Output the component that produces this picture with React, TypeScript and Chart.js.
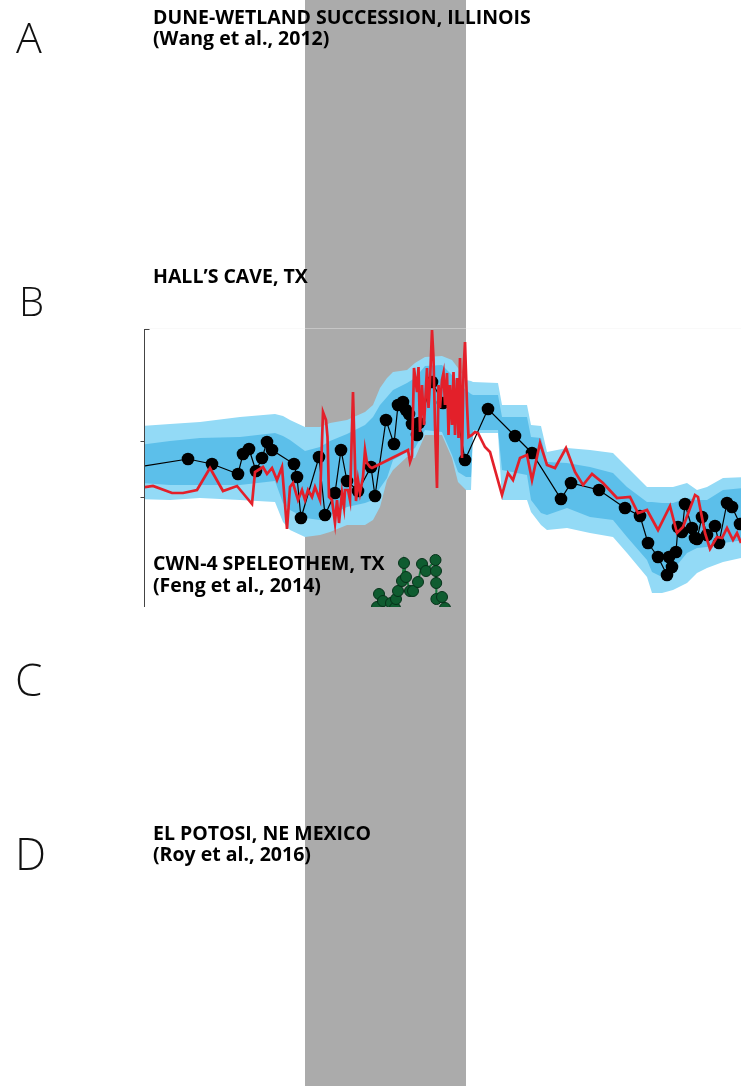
import React, { useEffect, useRef } from "react";
import { Chart, registerables } from "chart.js";

Chart.register(...registerables);

// ---------- data (x: age in cal ka BP, axis reversed; y: proxy value) ----------
const X_MIN = 9.04;
const X_MAX = 15.0;
const Y_MIN = 0;
const Y_MAX = 27.8;
const YD_START = 13.4;
const YD_END = 11.79;
const yTickVals = [16.6, 11.0];

// B: black dotted series
const blackAge = [15.25, 14.57, 14.33, 14.07, 14.02, 13.96, 13.89, 13.83, 13.78, 13.73, 13.51, 13.48, 13.44, 13.26, 13.2, 13.1, 13.04, 12.98, 12.87, 12.74, 12.7, 12.59, 12.51, 12.47, 12.42, 12.39, 12.36, 12.33, 12.28, 12.26, 12.13, 12.02, 11.9, 11.8, 11.57, 11.3, 11.13, 10.84, 10.74, 10.46, 10.2, 10.05, 9.97, 9.87, 9.78, 9.73, 9.76, 9.69, 9.67, 9.63, 9.6, 9.53, 9.5, 9.48, 9.43, 9.38, 9.3, 9.26, 9.18, 9.13, 9.05];
const blackVal = [13.7, 14.8, 14.3, 13.3, 15.3, 15.8, 13.6, 14.9, 16.5, 15.7, 14.3, 13.0, 8.9, 15.0, 9.2, 11.4, 15.7, 12.6, 11.6, 14.0, 11.1, 18.7, 16.3, 20.2, 20.5, 19.7, 19.3, 18.3, 17.2, 18.4, 22.5, 20.4, 20.4, 14.7, 19.8, 17.1, 15.4, 10.8, 12.4, 11.7, 9.9, 9.1, 6.4, 5.0, 3.2, 4.0, 5.0, 5.5, 8.0, 7.5, 10.3, 7.9, 6.9, 6.8, 9.0, 7.2, 8.1, 6.4, 10.4, 10.0, 8.3];

// B: red series
const redAge = [15.05, 14.92, 14.73, 14.62, 14.48, 14.35, 14.22, 14.08, 13.93, 13.9, 13.82, 13.78, 13.73, 13.68, 13.63, 13.58, 13.55, 13.52, 13.47, 13.43, 13.4, 13.37, 13.33, 13.3, 13.25, 13.22, 13.19, 13.175, 13.16, 13.13, 13.1, 13.08, 13.06, 13.03, 13.01, 13.0, 12.97, 12.95, 12.92, 12.89, 12.87, 12.85, 12.82, 12.8, 12.78, 12.75, 12.73, 12.37, 12.35, 12.33, 12.31, 12.28, 12.265, 12.25, 12.23, 12.21, 12.18, 12.165, 12.15, 12.13, 12.115, 12.1, 12.08, 12.065, 12.05, 12.03, 12.015, 12.0, 11.98, 11.965, 11.95, 11.93, 11.915, 11.9, 11.88, 11.865, 11.85, 11.83, 11.815, 11.8, 11.78, 11.765, 11.73, 11.7, 11.67, 11.6, 11.55, 11.43, 11.37, 11.32, 11.25, 11.18, 11.13, 11.05, 10.98, 10.9, 10.79, 10.7, 10.62, 10.53, 10.42, 10.28, 10.15, 10.07, 9.98, 9.87, 9.75, 9.68, 9.62, 9.5, 9.47, 9.4, 9.35, 9.28, 9.23, 9.18, 9.12, 9.08, 9.04];
const redVal = [11.9, 12.1, 11.4, 11.4, 11.7, 13.9, 11.6, 12.1, 10.3, 13.5, 14.0, 13.3, 13.9, 12.7, 14.0, 7.8, 12.0, 12.4, 10.7, 11.7, 10.7, 11.7, 11.0, 12.0, 10.7, 19.5, 18.7, 17.0, 11.0, 10.7, 8.4, 10.7, 8.4, 11.4, 10.0, 11.7, 11.7, 10.7, 21.5, 10.6, 12.7, 11.4, 13.0, 15.7, 14.4, 14.0, 13.9, 15.7, 14.5, 15.1, 23.9, 21.5, 24.0, 17.5, 22.2, 18.2, 23.9, 19.9, 22.5, 27.7, 24.9, 18.2, 11.9, 22.2, 19.9, 22.7, 23.4, 20.2, 23.4, 17.2, 22.2, 18.2, 23.5, 17.2, 22.9, 16.9, 24.9, 14.9, 23.5, 26.5, 20.2, 17.0, 17.2, 17.5, 17.4, 16.0, 15.5, 11.2, 13.4, 12.7, 14.9, 15.2, 12.7, 16.4, 14.2, 13.9, 15.9, 13.5, 12.2, 13.3, 12.4, 10.9, 11.0, 9.4, 9.7, 7.7, 10.1, 7.4, 8.0, 11.2, 11.0, 7.4, 5.8, 7.0, 6.9, 7.9, 6.7, 7.4, 6.4];

// B: uncertainty envelopes
const bandAge = [15.05, 14.75, 14.45, 14.05, 13.7, 13.62, 13.55, 13.4, 13.25, 13.15, 12.98, 12.8, 12.72, 12.65, 12.58, 12.52, 12.38, 12.3, 12.2, 12.03, 11.93, 11.87, 11.79, 11.74, 11.72, 11.47, 11.43, 11.18, 11.14, 11.04, 10.98, 10.78, 10.55, 10.32, 10.18, 9.98, 9.93, 9.83, 9.72, 9.58, 9.48, 9.38, 9.22, 9.0];
const outerTop = [18.1, 18.3, 18.5, 19.0, 19.3, 19.1, 18.7, 18.0, 18.0, 18.4, 18.7, 19.5, 20.2, 21.9, 22.9, 23.5, 23.7, 24.4, 25.0, 25.1, 24.7, 23.9, 22.7, 22.6, 22.5, 22.4, 20.2, 20.2, 18.2, 18.1, 15.5, 15.9, 15.7, 15.4, 14.0, 12.0, 12.0, 12.0, 12.0, 12.4, 11.7, 12.0, 12.9, 13.0];
const outerBot = [10.8, 10.7, 10.9, 10.7, 10.5, 8.5, 7.7, 7.0, 7.2, 7.5, 8.2, 8.2, 8.7, 10.0, 12.7, 13.7, 15.0, 14.9, 17.2, 17.2, 14.9, 12.5, 11.7, 11.7, 17.4, 17.4, 10.7, 10.7, 9.5, 8.2, 7.7, 7.9, 7.4, 7.0, 5.4, 3.0, 1.4, 1.4, 1.7, 2.4, 3.4, 3.9, 4.5, 5.0];
const innerTop = [16.2, 16.6, 16.9, 17.0, 17.4, 17.1, 16.7, 15.6, 16.0, 16.6, 17.3, 18.2, 19.0, 20.2, 21.0, 21.7, 22.4, 22.9, 24.1, 24.2, 23.2, 22.4, 21.7, 21.3, 21.2, 21.2, 19.0, 19.0, 17.0, 16.9, 14.5, 14.4, 14.0, 13.4, 12.0, 10.5, 10.5, 10.4, 10.4, 10.9, 10.7, 10.7, 11.7, 11.9];
const innerBot = [12.4, 12.2, 12.2, 12.2, 12.6, 10.4, 9.7, 8.9, 8.7, 9.2, 10.0, 10.4, 10.7, 11.9, 12.9, 14.7, 15.5, 15.9, 17.7, 17.5, 15.2, 13.5, 13.0, 13.0, 17.7, 17.7, 13.7, 13.2, 10.7, 9.4, 9.2, 9.9, 9.0, 8.7, 7.0, 4.7, 3.5, 3.0, 3.7, 5.4, 5.9, 6.0, 6.4, 6.7];

// C: green speleothem series (mostly below panel B's frame)
const greenAge = [12.73, 12.68, 12.66, 12.62, 12.59, 12.54, 12.5, 12.49, 12.47, 12.43, 12.41, 12.39, 12.35, 12.32, 12.27, 12.23, 12.19, 12.095, 12.09, 12.088, 12.086, 12.03, 12.0, 11.95];
const greenVal = [-1.5, 0.0, 1.3, 0.6, -1.1, 0.4, -0.1, 0.8, 1.6, 2.6, 4.4, 3.0, 1.6, 1.6, 2.5, 4.3, 3.6, 4.7, 3.6, 2.4, 0.8, 1.0, -0.1, -1.8];

const panelLetters = [
  { text: "A", left: 16, base: 53, size: 43 },
  { text: "B", left: 19, base: 317, size: 40 },
  { text: "C", left: 15, base: 696, size: 44 },
  { text: "D", left: 15, base: 870, size: 44 },
];

const titles = [
  { text: "DUNE-WETLAND SUCCESSION, ILLINOIS", base: 24 },
  { text: "(Wang et al., 2012)", base: 45 },
  { text: "HALL\u2019S CAVE, TX", base: 283 },
  { text: "CWN-4 SPELEOTHEM, TX", base: 570 },
  { text: "(Feng et al., 2014)", base: 592 },
  { text: "EL POTOSI, NE MEXICO", base: 840 },
  { text: "(Roy et al., 2016)", base: 861 },
];

const zip = (xs: number[], ys: number[]) => xs.map((x, i) => ({ x, y: ys[i] }));

const W = 741;
const H = 1086;
const TITLE_SIZE = 19.5;

const bandPlugin = {
  id: "ydBand",
  beforeDraw(chart: any) {
    const { ctx } = chart;
    const xs = chart.scales.x;
    const x1 = xs.getPixelForValue(YD_START);
    const x2 = xs.getPixelForValue(YD_END);
    ctx.save();
    ctx.fillStyle = "#ffffff";
    ctx.fillRect(0, 0, chart.width, chart.height);
    ctx.fillStyle = "#ababab";
    ctx.fillRect(Math.min(x1, x2), 0, Math.abs(x2 - x1), chart.height);
    ctx.restore();
  },
  afterDatasetsDraw(chart: any) {
    const { ctx, chartArea } = chart;
    const ys = chart.scales.y;
    const x = Math.round(chartArea.left) - 0.5;
    ctx.save();
    // faint frame top edge
    ctx.strokeStyle = "rgba(240,240,240,0.4)";
    ctx.lineWidth = 1;
    ctx.beginPath();
    ctx.moveTo(chartArea.left, Math.round(chartArea.top) - 0.5);
    ctx.lineTo(chartArea.right, Math.round(chartArea.top) - 0.5);
    ctx.stroke();
    // left axis
    ctx.strokeStyle = "#444444";
    ctx.beginPath();
    ctx.moveTo(x, chartArea.top);
    ctx.lineTo(x, chartArea.bottom);
    const yt = Math.round(chartArea.top) + 0.5;
    ctx.moveTo(x, yt);
    ctx.lineTo(x + 5, yt);
    yTickVals.forEach((v) => {
      const y = Math.round(ys.getPixelForValue(v)) + 0.5;
      ctx.moveTo(x - 4, y);
      ctx.lineTo(x, y);
    });
    ctx.stroke();
    ctx.restore();
  },
};

export default function App() {
  const ref = useRef<HTMLCanvasElement | null>(null);

  useEffect(() => {
    if (!ref.current) return;
    const transparent = "rgba(0,0,0,0)";
    const chart = new Chart(ref.current, {
      type: "line",
      data: {
        datasets: [
          {
            label: "CWN-4",
            data: zip(greenAge, greenVal),
            borderColor: "#16793c",
            borderWidth: 2,
            pointRadius: 5.5,
            pointBackgroundColor: "#0f5c30",
            pointBorderColor: "#06321a",
            pointBorderWidth: 1,
            fill: false,
            order: 0,
            clip: 0,
          },
          {
            label: "red",
            data: zip(redAge, redVal),
            borderColor: "#e3202a",
            borderWidth: 2.7,
            pointRadius: 0,
            fill: false,
            order: 1,
            clip: 0,
          },
          {
            label: "black",
            data: zip(blackAge, blackVal),
            borderColor: "#000000",
            borderWidth: 1.2,
            pointRadius: 6.3,
            pointBackgroundColor: "#000000",
            pointBorderWidth: 0,
            fill: false,
            order: 2,
            clip: 0,
          },
          {
            label: "innerTop",
            data: zip(bandAge, innerTop),
            borderColor: transparent,
            borderWidth: 0,
            pointRadius: 0,
            backgroundColor: "#5cbfea",
            fill: "+1",
            order: 3,
            clip: 0,
          },
          {
            label: "innerBot",
            data: zip(bandAge, innerBot),
            borderColor: transparent,
            borderWidth: 0,
            pointRadius: 0,
            fill: false,
            order: 3,
            clip: 0,
          },
          {
            label: "outerTop",
            data: zip(bandAge, outerTop),
            borderColor: transparent,
            borderWidth: 0,
            pointRadius: 0,
            backgroundColor: "#93daf6",
            fill: "+1",
            order: 4,
            clip: 0,
          },
          {
            label: "outerBot",
            data: zip(bandAge, outerBot),
            borderColor: transparent,
            borderWidth: 0,
            pointRadius: 0,
            fill: false,
            order: 4,
            clip: 0,
          },
        ],
      },
      options: {
        animation: false,
        responsive: false,
        devicePixelRatio: 1,
        events: [],
        layout: { autoPadding: false, padding: { left: 145, right: 0, top: 329, bottom: H - 607 } },
        elements: { line: { tension: 0 } },
        scales: {
          x: { type: "linear", min: X_MIN, max: X_MAX, reverse: true, display: false },
          y: { type: "linear", min: Y_MIN, max: Y_MAX, display: false },
        },
        plugins: {
          legend: { display: false },
          tooltip: { enabled: false },
          title: { display: false },
        },
      },
      plugins: [bandPlugin],
    } as any);
    return () => chart.destroy();
  }, []);

  const asc = 0.888; // Open Sans baseline offset within a 1em line box
  return (
    <div
      style={{
        position: "absolute",
        left: 0,
        top: 0,
        width: W,
        height: H,
        overflow: "hidden",
        background: "#fff",
      }}
    >
      <canvas ref={ref} width={W} height={H} style={{ position: "absolute", left: 0, top: 0, width: W, height: H }} />
      {panelLetters.map((l) => (
        <div
          key={l.text}
          style={{
            position: "absolute",
            left: l.left,
            top: l.base - asc * l.size,
            fontFamily: "'Open Sans', sans-serif",
            fontWeight: 300,
            fontSize: l.size,
            lineHeight: `${l.size}px`,
            color: "#111",
            whiteSpace: "nowrap",
          }}
        >
          {l.text}
        </div>
      ))}
      {titles.map((t) => (
        <div
          key={t.text}
          style={{
            position: "absolute",
            left: 153,
            top: t.base - asc * TITLE_SIZE,
            fontFamily: "'Open Sans', sans-serif",
            fontWeight: 700,
            fontSize: TITLE_SIZE,
            lineHeight: `${TITLE_SIZE}px`,
            color: "#000",
            whiteSpace: "nowrap",
          }}
        >
          {t.text}
        </div>
      ))}
    </div>
  );
}
